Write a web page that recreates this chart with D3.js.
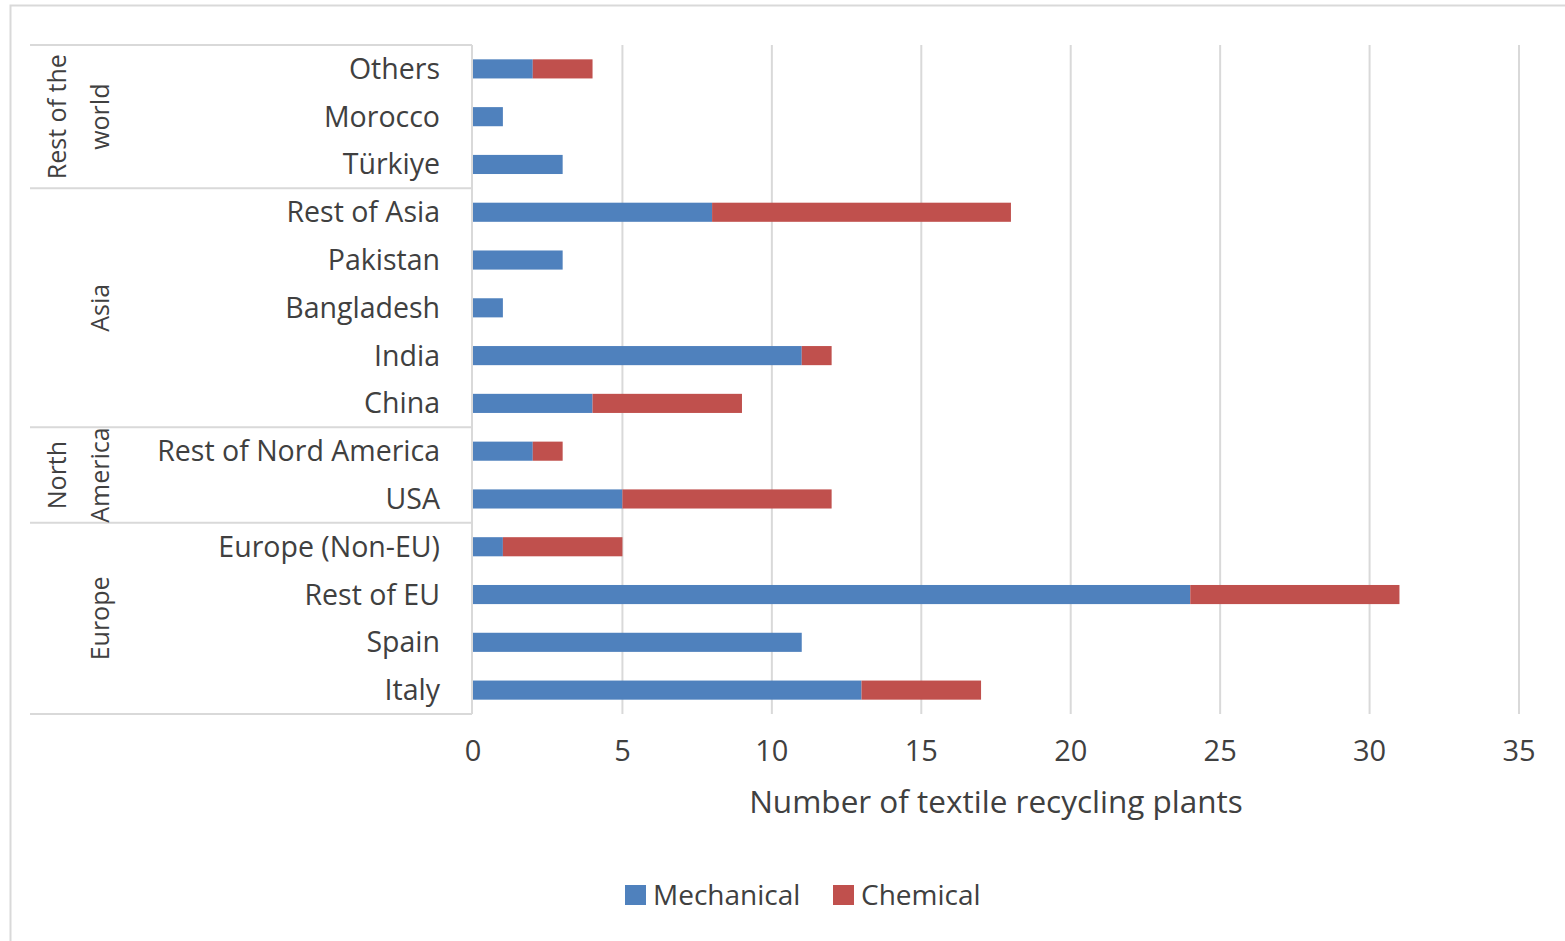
<!DOCTYPE html>
<html>
<head>
<meta charset="utf-8">
<script src="https://cdn.jsdelivr.net/npm/d3@7"></script>
<style>
  body { margin: 0; background: #fff; }
  text { font-family: "Open Sans", "Liberation Sans", sans-serif; fill: #404040; }
</style>
</head>
<body>
<svg id="chart" width="1565" height="941"></svg>
<script>
// categories top to bottom
var countries = ["Others", "Morocco", "Türkiye", "Rest of Asia", "Pakistan", "Bangladesh", "India", "China",
    "Rest of Nord America", "USA", "Europe (Non-EU)", "Rest of EU", "Spain", "Italy"];
var mechanical = [2, 1, 3, 8, 3, 1, 11, 4, 2, 5, 1, 24, 11, 13];
var chemical = [2, 0, 0, 10, 0, 0, 1, 5, 1, 7, 4, 7, 0, 4];
// region groups: label lines, first and last country
var groupLabels = [["Rest of the", "world"], ["Asia"], ["North", "America"], ["Europe"]];
var groupStart = ["Others", "Rest of Asia", "Rest of Nord America", "Europe (Non-EU)"];
var groupEnd = ["Türkiye", "China", "USA", "Italy"];
var xTicks = [0, 5, 10, 15, 20, 25, 30, 35];
var seriesNames = ["Mechanical", "Chemical"];
var colors = ["#4f81bd", "#c0504d"];

var svg = d3.select("#chart");
var plotLeft = 473, plotRight = 1519, plotTop = 45, plotBottom = 714;

// outer frame
svg.append("rect")
    .attr("x", 10.5).attr("y", 5.5)
    .attr("width", 1600).attr("height", 1000)
    .attr("fill", "none").attr("stroke", "#d9d9d9").attr("stroke-width", 2);

var x = d3.scaleLinear().domain([0, 35]).range([plotLeft, plotRight]);
var y = d3.scaleBand().domain(countries).range([plotTop, plotBottom]).paddingInner(0.6).paddingOuter(0.3);
var yFull = d3.scaleBand().domain(countries).range([plotTop, plotBottom]);

// gridlines
svg.append("g").selectAll("line")
    .data(xTicks.slice(1))
    .enter().append("line")
    .attr("x1", function (d) { return x(d); })
    .attr("x2", function (d) { return x(d); })
    .attr("y1", plotTop).attr("y2", plotBottom)
    .attr("stroke", "#d9d9d9").attr("stroke-width", 2);

// stacked bars
var rows = countries.map(function (c, i) {
    return { country: c, Mechanical: mechanical[i], Chemical: chemical[i] };
});
var stack = d3.stack().keys(seriesNames)(rows);

svg.append("g").selectAll("g")
    .data(stack)
    .enter().append("g")
    .attr("fill", function (d, i) { return colors[i]; })
    .selectAll("rect")
    .data(function (d) { return d.filter(function (p) { return p[1] > p[0]; }); })
    .enter().append("rect")
    .attr("x", function (d) { return x(d[0]); })
    .attr("width", function (d) { return x(d[1]) - x(d[0]); })
    .attr("y", function (d) { return y(d.data.country); })
    .attr("height", y.bandwidth());

// category axis table lines
var tbl = svg.append("g").attr("stroke", "#d9d9d9").attr("stroke-width", 2);
tbl.append("line").attr("x1", plotLeft - 1).attr("x2", plotLeft - 1).attr("y1", plotTop).attr("y2", plotBottom);
var bounds = [plotTop].concat(groupEnd.map(function (c) { return yFull(c) + yFull.bandwidth(); }));
tbl.selectAll(".sep").data(bounds).enter().append("line")
    .attr("x1", 30).attr("x2", plotLeft - 1)
    .attr("y1", function (d) { return d; })
    .attr("y2", function (d) { return d; });

// country labels
svg.append("g").selectAll("text")
    .data(countries)
    .enter().append("text")
    .attr("x", 440)
    .attr("y", function (d) { return yFull(d) + yFull.bandwidth() / 2; })
    .attr("dy", "0.35em")
    .attr("text-anchor", "end")
    .style("font-size", "28.5px")
    .text(function (d) { return d; });

// rotated group labels
groupLabels.forEach(function (lines, i) {
    var cy = (yFull(groupStart[i]) + yFull(groupEnd[i]) + yFull.bandwidth()) / 2;
    var xs = lines.length === 2 ? [57, 100] : [100];
    lines.forEach(function (t, j) {
        svg.append("text")
            .attr("transform", "translate(" + xs[j] + "," + cy + ")rotate(-90)")
            .attr("dy", "0.35em")
            .attr("text-anchor", "middle")
            .style("font-size", "25px")
            .text(t);
    });
});

// x tick labels
svg.append("g").selectAll("text")
    .data(xTicks)
    .enter().append("text")
    .attr("x", function (d) { return x(d); })
    .attr("y", 751)
    .attr("dy", "0.35em")
    .attr("text-anchor", "middle")
    .style("font-size", "29px")
    .text(function (d) { return d; });

svg.append("text")
    .attr("x", (plotLeft + plotRight) / 2).attr("y", 802)
    .attr("dy", "0.35em")
    .attr("text-anchor", "middle")
    .style("font-size", "31.5px")
    .text("Number of textile recycling plants");

// legend
var legendX = [625, 833];
var legend = svg.append("g").selectAll("g")
    .data(seriesNames)
    .enter().append("g")
    .attr("transform", function (d, i) { return "translate(" + legendX[i] + ",895)"; });
legend.append("rect").attr("x", 0).attr("y", -10).attr("width", 21).attr("height", 20)
    .attr("fill", function (d, i) { return colors[i]; });
legend.append("text").attr("x", 28).attr("dy", "0.35em")
    .style("font-size", "28px")
    .text(function (d) { return d; });
</script>
</body>
</html>
